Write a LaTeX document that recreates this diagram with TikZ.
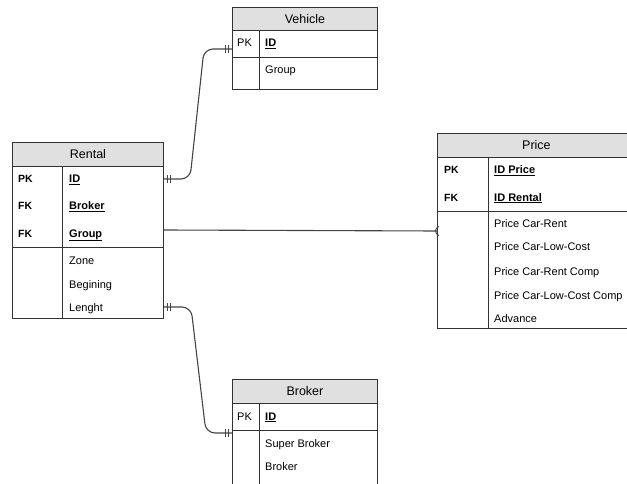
\documentclass[tikz,border=0pt]{standalone}
\usepackage{fontspec}
\setmainfont{Liberation Sans}
\usetikzlibrary{decorations.markings}
\definecolor{headgray}{HTML}{E0E0E0}
\definecolor{linegray}{HTML}{333333}
\definecolor{linkgray}{HTML}{444444}
\tikzset{
  tablehead/.style={draw=linegray, fill=headgray, line width=0.9pt, anchor=north west, inner sep=0pt, font=\fontsize{12.5}{14}\selectfont},
  tablebody/.style={draw=linegray, line width=0.9pt, anchor=north west, inner sep=0pt},
  tableline/.style={draw=linegray, line width=0.9pt},
  keylabel/.style={anchor=base west, inner sep=0pt, font=\fontsize{10.5}{12}\selectfont},
  fieldlabel/.style={anchor=base west, inner sep=0pt, font=\fontsize{11}{13}\selectfont},
  link/.style={draw=linkgray, line width=1.1pt, rounded corners=9pt},
  bar/.style={draw=linkgray, line width=0.9pt},
  oneone/.style={postaction={decorate}, decoration={markings,
      mark=at position 4pt with {\draw[bar] (0,-4pt) -- (0,4pt);},
      mark=at position 7pt with {\draw[bar] (0,-4pt) -- (0,4pt);},
      mark=at position -4pt with {\draw[bar] (0,-4pt) -- (0,4pt);},
      mark=at position -7pt with {\draw[bar] (0,-4pt) -- (0,4pt);}}},
  onemany/.style={postaction={decorate}, decoration={markings,
      mark=at position -6pt with {\draw[bar] (6pt,-3.5pt) -- (0,0) -- (6pt,3.5pt);}}},
}
\begin{document}
\begin{tikzpicture}[x=1pt, y=-1pt]
  \useasboundingbox (0,0) rectangle (627,484);
  \clip (0,0) rectangle (627,484);

  % Vehicle
  \node[tablehead, minimum width=145pt, minimum height=23pt] (vehicle) at (232,7) {Vehicle};
  \node[tablebody, minimum width=145pt, minimum height=59pt] (vehiclebody) at (232,30) {};
  \draw[tableline] (259,30) -- (259,89);
  \draw[tableline] (232,57) -- (377,57);
  \node[fieldlabel] (vehiclePK) at (237,47) {PK};
  \node[fieldlabel] (vehicleID) at (265,47) {\underline{\textbf{ID}}};
  \node[fieldlabel] (vehicleGroup) at (265,74) {Group};

  % Rental
  \node[tablehead, minimum width=151pt, minimum height=24pt] (rental) at (12,142) {Rental};
  \node[tablebody, minimum width=151pt, minimum height=152pt] (rentalbody) at (12,166) {};
  \draw[tableline] (62,166) -- (62,318);
  \draw[tableline] (12,247) -- (163,247);
  \node[keylabel] (rentalPK) at (18,183) {\textbf{PK}};
  \node[keylabel] (rentalFKa) at (18,210) {\textbf{FK}};
  \node[keylabel] (rentalFKb) at (18,237) {\textbf{FK}};
  \node[fieldlabel] (rentalID) at (69,183) {\underline{\textbf{ID}}};
  \node[fieldlabel] (rentalBroker) at (69,210) {\underline{\textbf{Broker}}};
  \node[fieldlabel] (rentalGroup) at (69,237) {\underline{\textbf{Group}}};
  \node[fieldlabel] (rentalZone) at (69,264) {Zone};
  \node[fieldlabel] (rentalBegin) at (69,288) {Begining};
  \node[fieldlabel] (rentalLength) at (69,311) {Lenght};

  % Price
  \node[tablehead, minimum width=198pt, minimum height=24pt] (price) at (437,133) {Price};
  \node[tablebody, minimum width=198pt, minimum height=171pt] (pricebody) at (437,157) {};
  \draw[tableline] (488,157) -- (488,328);
  \draw[tableline] (437,211) -- (635,211);
  \node[keylabel] (pricePK) at (444,174) {\textbf{PK}};
  \node[keylabel] (priceFK) at (444,201) {\textbf{FK}};
  \node[fieldlabel] (priceID) at (494,174) {\underline{\textbf{ID Price}}};
  \node[fieldlabel] (priceRental) at (494,201) {\underline{\textbf{ID Rental}}};
  \node[fieldlabel] (priceRent) at (494,228) {Price Car-Rent};
  \node[fieldlabel] (priceLow) at (494,251) {Price Car-Low-Cost};
  \node[fieldlabel] (priceRentComp) at (494,275) {Price Car-Rent Comp};
  \node[fieldlabel] (priceLowComp) at (494,299) {Price Car-Low-Cost Comp};
  \node[fieldlabel] (priceAdvance) at (494,322) {Advance};

  % Broker
  \node[tablehead, minimum width=145pt, minimum height=24pt] (broker) at (232,379) {Broker};
  \node[tablebody, minimum width=145pt, minimum height=90pt] (brokerbody) at (232,403) {};
  \draw[tableline] (259,403) -- (259,493);
  \draw[tableline] (232,430) -- (377,430);
  \node[fieldlabel] (brokerPK) at (237,420) {PK};
  \node[fieldlabel] (brokerID) at (265,420) {\underline{\textbf{ID}}};
  \node[fieldlabel] (brokerSuper) at (265,447) {Super Broker};
  \node[fieldlabel] (brokerName) at (265,470) {Broker};

  % ports
  \coordinate (rentalIDport) at (rentalbody.east |- 0,179);
  \coordinate (rentalGroupport) at (rentalbody.east |- 0,230);
  \coordinate (rentalLengthport) at (rentalbody.east |- 0,307);
  \coordinate (vehicleport) at (vehiclebody.west |- 0,49);
  \coordinate (priceport) at (pricebody.west |- 0,231);
  \coordinate (brokerport) at (brokerbody.west |- 0,433);

  % links
  \draw[link, oneone] (rentalIDport) -- (190,179) -- (204,49) -- (vehicleport);
  \draw[link, onemany] (rentalGroupport) -- (priceport);
  \draw[link, oneone] (rentalLengthport) -- (191,307) -- (206,433) -- (brokerport);
\end{tikzpicture}
\end{document}
